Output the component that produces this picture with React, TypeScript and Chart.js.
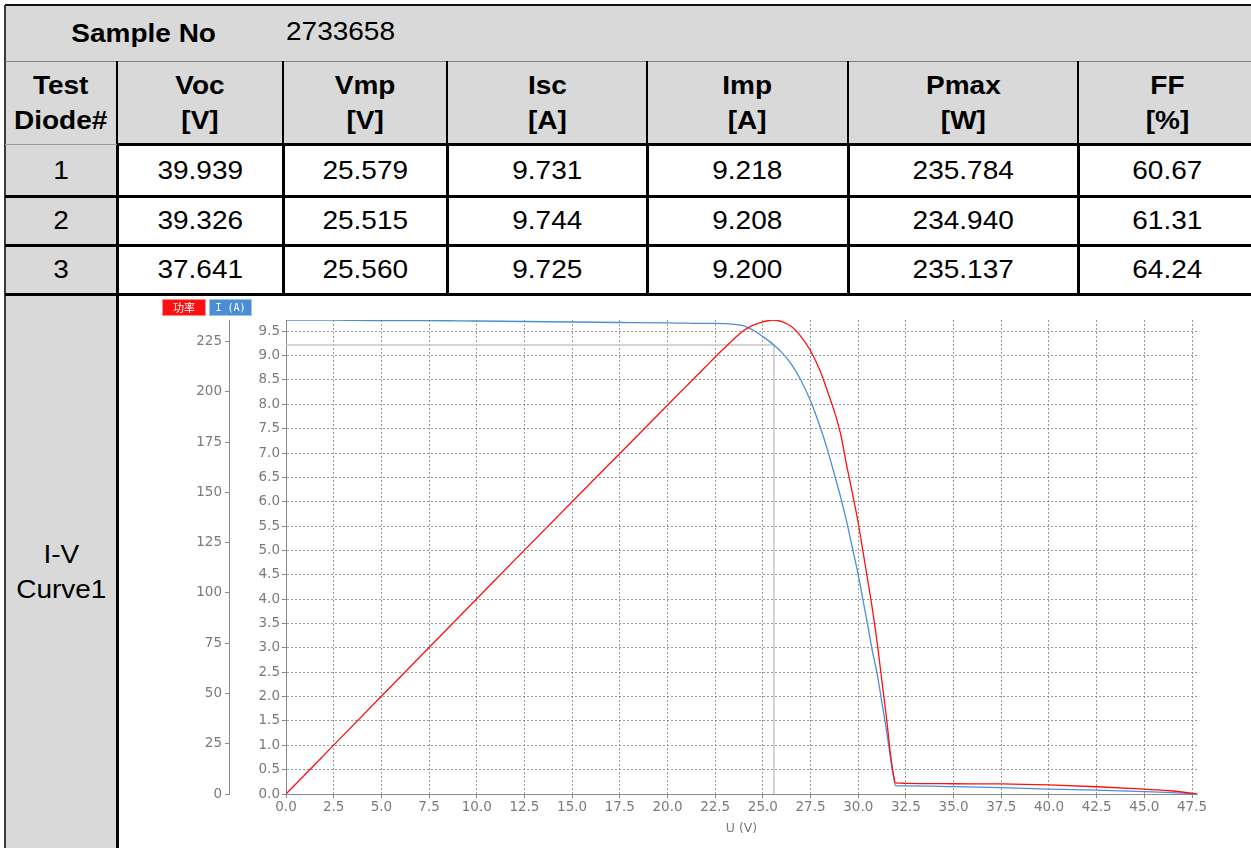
import React, { useEffect, useRef } from "react";
import { Chart, registerables } from "chart.js";

Chart.register(...registerables);

// ---- Test record ----
const sampleNo = "2733658";
const columnNames = ["Voc", "Vmp", "Isc", "Imp", "Pmax", "FF"];
const columnUnits = ["[V]", "[V]", "[A]", "[A]", "[W]", "[%]"];
const columnDecimals = [3, 3, 3, 3, 3, 2];
const diodes = [1, 2, 3];
const voc = [39.939, 39.326, 37.641];
const vmp = [25.579, 25.515, 25.56];
const isc = [9.731, 9.744, 9.725];
const imp = [9.218, 9.208, 9.2];
const pmax = [235.784, 234.94, 235.137];
const ff = [60.67, 61.31, 64.24];

// ---- I-V sweep (diode 1) ----
const voltage = [
  0, 2.5, 5, 7.5, 10, 12.5, 15, 17.5, 20, 21, 22, 22.5, 23, 23.5, 24, 24.5, 25,
  25.579, 26, 26.5, 27, 27.5, 28, 28.4, 28.8, 29.1, 29.4, 29.7, 30.0, 30.25,
  30.5, 30.75, 31.0, 31.25, 31.5, 31.7, 31.85, 31.95, 32.2, 32.5, 35, 37.5, 40,
  42.5, 45, 46.5, 47.76,
];
const current = [
  9.731, 9.73, 9.72, 9.72, 9.71, 9.7, 9.69, 9.68, 9.67, 9.665, 9.66, 9.66,
  9.655, 9.64, 9.61, 9.52, 9.39, 9.218, 9.06, 8.82, 8.49, 8.07, 7.54, 7.05,
  6.49, 6.06, 5.58, 5.04, 4.5, 3.98, 3.46, 2.92, 2.45, 1.85, 1.26, 0.72, 0.36,
  0.17, 0.165, 0.165, 0.15, 0.13, 0.1, 0.08, 0.05, 0.03, 0.0,
];
const power = [
  0, 24.3, 48.6, 72.9, 97.1, 121.3, 145.4, 169.4, 193.4, 203.0, 212.5, 217.4,
  222.0, 226.5, 230.6, 233.2, 234.9, 235.784, 235.0, 232.5, 227.5, 220.5, 210.5,
  200.0, 188.7, 178.0, 163.1, 149.4, 134.8, 120.6, 106.2, 91.5, 74.8, 55.4,
  36.3, 19.0, 9.5, 5.5, 5.4, 5.3, 5.1, 5.0, 4.5, 3.6, 2.4, 1.5, 0,
];

const powerLabel = "功率";
const currentLabel = "I (A)";
const xTitle = "U (V)";

const AXIS_GRAY = "#8a8a8a";
const TEXT_GRAY = "#7a7a7a";
const GRID_GRAY = "rgba(120,120,120,0.75)";
const CELL_GRAY = "#d9d9d9";
const TABLE_FONT = "'Liberation Sans', Arial, sans-serif";
const CHART_FONT = "'DejaVu Sans', Verdana, sans-serif";

// Coloured label chips drawn in the top-left corner of the canvas
const legendChips = {
  id: "legendChips",
  afterDraw(chart: any) {
    const { ctx } = chart;
    const sets = chart.data.datasets.filter((d: any) => d.chip);
    let x = 43;
    const y = 3;
    const h = 17;
    ctx.save();
    sets.forEach((ds: any, i: number) => {
      const w = i === 0 ? 44 : 43;
      ctx.fillStyle = ds.borderColor;
      ctx.fillRect(x, y, w, h);
      ctx.strokeStyle = ds.chipEdge;
      ctx.lineWidth = 1;
      ctx.strokeRect(x + 0.5, y + 0.5, w - 1, h - 1);
      ctx.fillStyle = "#ffffff";
      ctx.font = ds.chipFont;
      ctx.textAlign = "center";
      ctx.textBaseline = "middle";
      ctx.fillText(ds.label, x + w / 2, y + h / 2 + 0.5);
      x += w + 3;
    });
    ctx.restore();
  },
};

function IVChart() {
  const ref = useRef<HTMLCanvasElement>(null);

  useEffect(() => {
    const canvas = ref.current;
    if (!canvas) return;
    const tickFont = { family: CHART_FONT, size: 13.5 };
    const chart = new Chart(canvas, {
      type: "line",
      data: {
        datasets: [
          {
            label: powerLabel,
            data: voltage.map((v, i) => ({ x: v, y: power[i] })),
            borderColor: "#ff1010",
            borderWidth: 1.3,
            pointRadius: 0,
            cubicInterpolationMode: "monotone",
            yAxisID: "yP",
            chip: true,
            chipEdge: "#ff8c8c",
            chipFont: "11px 'Noto Sans CJK SC', sans-serif",
          } as any,
          {
            label: currentLabel,
            data: voltage.map((v, i) => ({ x: v, y: current[i] })),
            borderColor: "#4a8fd6",
            borderWidth: 1.3,
            pointRadius: 0,
            cubicInterpolationMode: "monotone",
            yAxisID: "yI",
            chip: true,
            chipEdge: "#9cc4ee",
            chipFont: "10px 'DejaVu Sans Mono', monospace",
          } as any,
          {
            label: "MPP",
            data: [
              { x: 0, y: imp[0] },
              { x: vmp[0], y: imp[0] },
              { x: vmp[0], y: 0 },
            ],
            borderColor: "#c6c6c6",
            borderWidth: 1.5,
            pointRadius: 0,
            tension: 0,
            yAxisID: "yI",
          },
        ],
      },
      options: {
        responsive: false,
        devicePixelRatio: 1,
        animation: false,
        layout: { padding: { top: 24, left: 60, right: 59, bottom: 0 } },
        plugins: {
          legend: { display: false },
          tooltip: { enabled: false },
        },
        scales: {
          x: {
            type: "linear",
            position: "bottom",
            min: 0,
            max: Math.max(...voltage),
            afterFit: (s: any) => {
              s.height = 54;
            },
            ticks: {
              stepSize: 2.5,
              includeBounds: false,
              autoSkip: false,
              maxRotation: 0,
              color: TEXT_GRAY,
              font: tickFont,
              padding: 1,
              callback: (v: any) => Number(v).toFixed(1),
            },
            grid: { color: GRID_GRAY, tickColor: AXIS_GRAY, tickLength: 4 },
            border: { color: AXIS_GRAY, dash: [2, 2] },
            title: {
              display: true,
              text: xTitle,
              color: TEXT_GRAY,
              font: { family: CHART_FONT, size: 12.5 },
              padding: { top: 0, bottom: 12 },
            },
          },
          yI: {
            type: "linear",
            position: "left",
            weight: 0,
            min: 0,
            max: isc[0],
            afterFit: (s: any) => {
              s.width = 57;
            },
            ticks: {
              stepSize: 0.5,
              includeBounds: false,
              autoSkip: false,
              color: TEXT_GRAY,
              font: tickFont,
              padding: 2,
              callback: (v: any) => Number(v).toFixed(1),
            },
            grid: { color: GRID_GRAY, tickColor: AXIS_GRAY, tickLength: 4 },
            border: { color: AXIS_GRAY, dash: [2, 2] },
          },
          yP: {
            type: "linear",
            position: "left",
            weight: 1,
            min: 0,
            max: pmax[0],
            afterFit: (s: any) => {
              s.width = 50;
            },
            ticks: {
              stepSize: 25,
              includeBounds: false,
              autoSkip: false,
              color: TEXT_GRAY,
              font: tickFont,
              padding: 3,
            },
            grid: {
              drawOnChartArea: false,
              color: AXIS_GRAY,
              tickColor: AXIS_GRAY,
              tickLength: 4,
            },
            border: { color: AXIS_GRAY },
          },
        },
      } as any,
      plugins: [legendChips],
    });
    return () => chart.destroy();
  }, []);

  return <canvas ref={ref} width={1137} height={552} style={{ display: "block" }} />;
}

function TextBlock({ text, bold, origin }: { text: string; bold?: boolean; origin?: string }) {
  return (
    <span
      style={{
        display: "inline-block",
        whiteSpace: "pre",
        fontWeight: bold ? 700 : 400,
        transform: "scaleX(1.12)",
        transformOrigin: origin || "center",
        lineHeight: "35px",
        textAlign: "center",
      }}
    >
      {text}
    </span>
  );
}

export default function App() {
  const COLS = [5, 117, 283, 447, 647, 848, 1078, 1256];
  const ROWS = [5, 61, 145, 196, 245, 294, 849];

  const cell = (
    key: string,
    c0: number,
    c1: number,
    r0: number,
    r1: number,
    bg: string,
    content: React.ReactNode,
    extra: React.CSSProperties = {}
  ) => (
    <div
      key={key}
      style={{
        position: "absolute",
        left: COLS[c0],
        top: ROWS[r0],
        width: COLS[c1] - COLS[c0],
        height: ROWS[r1] - ROWS[r0],
        background: bg,
        display: "flex",
        alignItems: "center",
        justifyContent: "center",
        ...extra,
      }}
    >
      {content}
    </div>
  );

  const line = (key: string, x: number, y: number, w: number, h: number, color: string) => (
    <div
      key={key}
      style={{ position: "absolute", left: x, top: y, width: w, height: h, background: color }}
    />
  );

  const valueColumns = [voc, vmp, isc, imp, pmax, ff];
  const cells: React.ReactNode[] = [];

  cells.push(cell("sn", 0, 2, 0, 1, CELL_GRAY, <TextBlock text="Sample No" bold />));
  cells.push(
    cell(
      "snv",
      2,
      7,
      0,
      1,
      CELL_GRAY,
      <TextBlock text={sampleNo} origin="left" />,
      { alignItems: "flex-start", justifyContent: "flex-start", paddingLeft: 3, paddingTop: 9, boxSizing: "border-box" }
    )
  );
  cells.push(cell("hd", 0, 1, 1, 2, CELL_GRAY, <TextBlock text={"Test\nDiode#"} bold />));
  columnNames.forEach((name, i) => {
    cells.push(
      cell("h" + i, i + 1, i + 2, 1, 2, CELL_GRAY, <TextBlock text={name + "\n" + columnUnits[i]} bold />)
    );
  });
  diodes.forEach((d, r) => {
    cells.push(cell("d" + r, 0, 1, r + 2, r + 3, CELL_GRAY, <TextBlock text={String(d)} />));
    valueColumns.forEach((col, c) => {
      cells.push(
        cell(
          "v" + r + "_" + c,
          c + 1,
          c + 2,
          r + 2,
          r + 3,
          "#ffffff",
          <TextBlock text={col[r].toFixed(columnDecimals[c])} />
        )
      );
    });
  });
  cells.push(cell("iv", 0, 1, 5, 6, CELL_GRAY, <TextBlock text={"I-V\nCurve1"} />));
  cells.push(cell("chartCell", 1, 7, 5, 6, "#ffffff", null));

  const lines: React.ReactNode[] = [];
  const W = COLS[7] - COLS[0];
  // outer frame
  lines.push(line("top", COLS[0], ROWS[0] - 1, W, 2, "#111"));
  lines.push(line("left", COLS[0] - 1, ROWS[0], 2, ROWS[6] - ROWS[0], "#3a3a3a"));
  // below the sample number row
  lines.push(line("r1", COLS[0], ROWS[1], W, 1, "#7f7f7f"));
  // header column separators
  for (let c = 1; c <= 6; c++) {
    lines.push(line("hc" + c, COLS[c] - 1, ROWS[1], 2, ROWS[2] - ROWS[1], "#000"));
  }
  // header bottom
  lines.push(line("r2a", COLS[0], ROWS[2] - 1, COLS[1] - COLS[0], 1, "#9a9a9a"));
  lines.push(line("r2b", COLS[1], ROWS[2] - 2, COLS[7] - COLS[1], 3, "#000"));
  // data rows
  for (let r = 3; r <= 5; r++) {
    lines.push(line("r" + r, COLS[0], ROWS[r] - 1.5, W, 3, "#000"));
  }
  for (let c = 1; c <= 6; c++) {
    lines.push(line("dc" + c, COLS[c] - 1.5, ROWS[2], 3, ROWS[5] - ROWS[2], "#000"));
  }
  lines.push(line("cc", COLS[1] - 1.5, ROWS[5], 3, ROWS[6] - ROWS[5], "#000"));

  return (
    <div
      style={{
        position: "fixed",
        left: 0,
        top: 0,
        width: 1251,
        height: 848,
        overflow: "hidden",
        background: "#ffffff",
        fontFamily: TABLE_FONT,
        fontSize: 25,
        color: "#000",
      }}
    >
      {cells}
      <div style={{ position: "absolute", left: 119, top: 296, width: 1137, height: 552 }}>
        <IVChart />
      </div>
      {lines}
    </div>
  );
}
